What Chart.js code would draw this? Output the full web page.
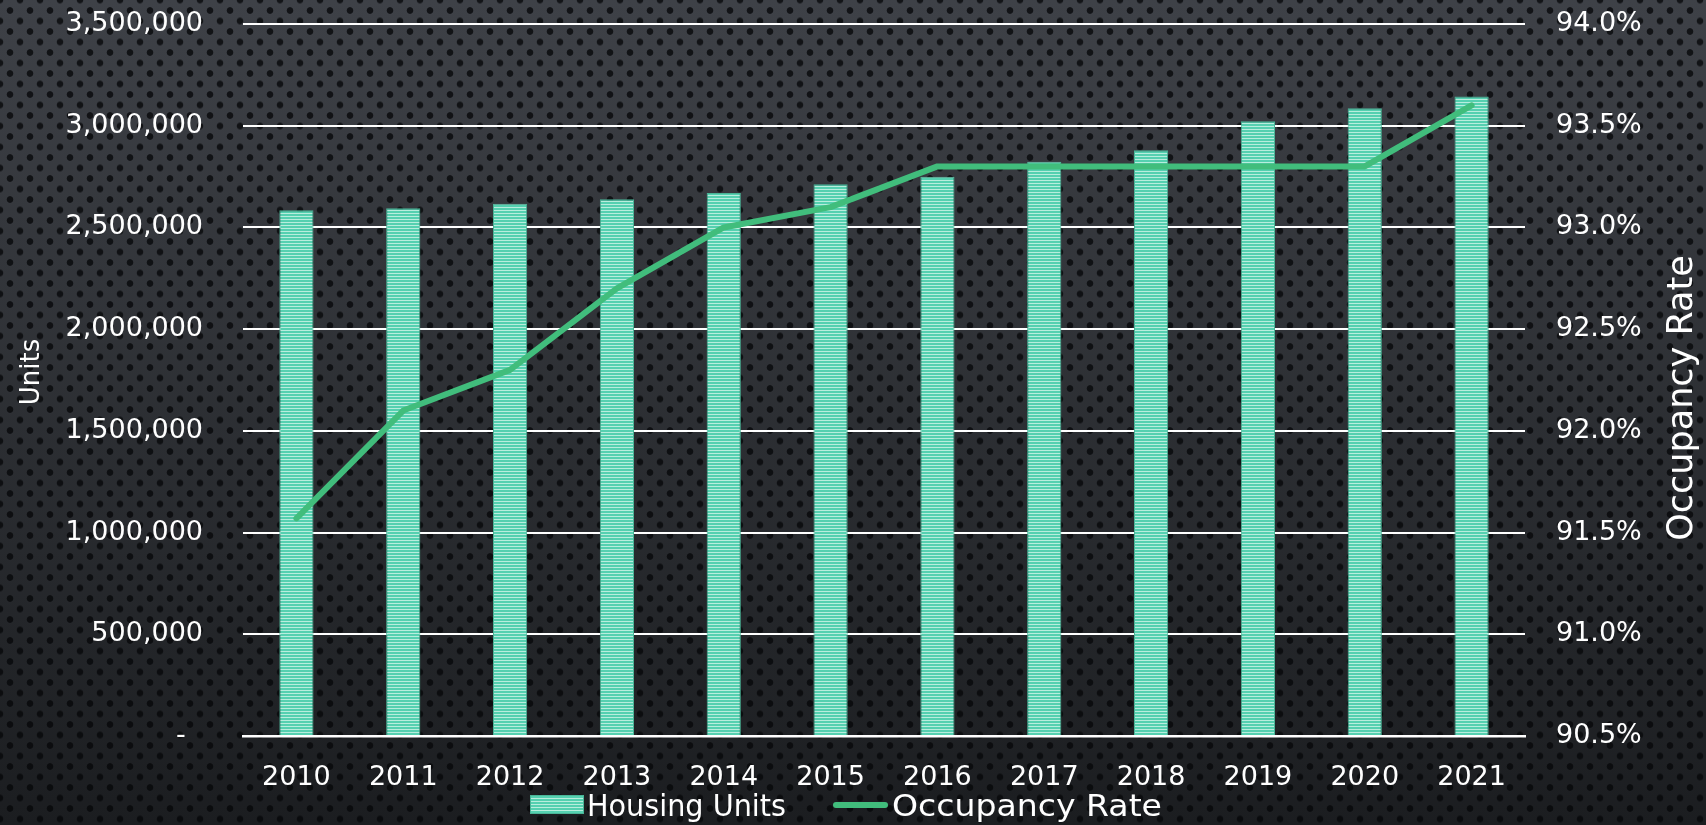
<!DOCTYPE html>
<html lang="en">
<head>
    <meta charset="UTF-8">
    <title>Housing Units and Occupancy Rate</title>
    <script src="https://cdn.jsdelivr.net/npm/chart.js"></script>
    <style>
        html, body {
            margin: 0;
            padding: 0;
        }
        body {
            width: 1706px;
            height: 825px;
            overflow: hidden;
            position: relative;
            font-family: 'DejaVu Sans', sans-serif;
            background-color: #2b2e33;
            background-image:
                radial-gradient(circle, rgba(6, 7, 9, 0.78) 2.9px, transparent 3.7px),
                radial-gradient(circle, rgba(6, 7, 9, 0.78) 2.9px, transparent 3.7px),
                linear-gradient(#3e4147, #1b1d20);
            background-size: 20px 21px, 20px 21px, 100% 100%;
            background-position: 0 0, 10px 10.5px, 0 0;
        }
        .chart-box {
            position: absolute;
            left: 0;
            top: 0;
            width: 1706px;
            height: 825px;
        }
        /* 凡例 (HTML) */
        .legend-item {
            position: absolute;
            color: #ffffff;
            font-size: 31px;
            line-height: 36px;
            white-space: nowrap;
            transform-origin: left center;
        }
        .swatch-bar {
            position: absolute;
            left: 530px;
            top: 795px;
            width: 54px;
            height: 19px;
            background: repeating-linear-gradient(#b8eddd 0px, #b8eddd 1px, #55d0b0 1px, #55d0b0 3px);
            box-shadow: inset 0 0 0 1px #4ab497;
        }
        .swatch-line {
            position: absolute;
            left: 833px;
            top: 802px;
            width: 55px;
            height: 6px;
            border-radius: 3px;
            background: #41bd7c;
        }
    </style>
</head>
<body>
    <div class="chart-box">
        <canvas id="housingChart"></canvas>
    </div>
    <div class="swatch-bar"></div>
    <span class="legend-item" id="legend-bar" style="left:587px; top:787px;"></span>
    <div class="swatch-line"></div>
    <span class="legend-item" id="legend-line" style="left:892px; top:787px;"></span>

    <script>
        // データ
        const years = ['2010', '2011', '2012', '2013', '2014', '2015', '2016', '2017', '2018', '2019', '2020', '2021'];
        const housingUnits = [2584000, 2594000, 2617000, 2638000, 2669000, 2712000, 2749000, 2823000, 2879000, 3022000, 3086000, 3143000];
        const occupancyRate = [91.57, 92.1, 92.3, 92.7, 93.0, 93.1, 93.3, 93.3, 93.3, 93.3, 93.3, 93.6];

        const unitsTicks = { min: 0, max: 3500000, step: 500000 };
        const rateTicks = { min: 90.5, max: 94.0, step: 0.5 };

        const FONT = 'DejaVu Sans';

        // 横縞のバー用パターン
        function stripePattern() {
            const c = document.createElement('canvas');
            c.width = 4;
            c.height = 3;
            const g = c.getContext('2d');
            g.fillStyle = '#55d0b0';
            g.fillRect(0, 0, 4, 3);
            g.fillStyle = '#b8eddd';
            g.fillRect(0, 0, 4, 1);
            return g.createPattern(c, 'repeat');
        }

        // 縦軸の余白 (tick padding が上下にも足されるので消す)
        function fixVerticalAxis(width) {
            return scale => {
                scale.width = width;
                scale.paddingTop = 0;
                scale.paddingBottom = 0;
            };
        }

        // 軸タイトル (両側とも下から上に読む向き)
        const axisTitles = {
            id: 'axisTitles',
            afterDraw(chart) {
                const ctx = chart.ctx;
                const mid = (chart.chartArea.top + chart.chartArea.bottom) / 2;
                const draw = (text, x, y, size) => {
                    ctx.save();
                    ctx.translate(x, y);
                    ctx.rotate(-Math.PI / 2);
                    ctx.font = `${size}px "${FONT}"`;
                    ctx.fillStyle = '#ffffff';
                    ctx.textAlign = 'center';
                    ctx.textBaseline = 'middle';
                    ctx.fillText(text, 0, 0);
                    ctx.restore();
                };
                draw('Units', 32, mid - 8, 26);
                draw('Occupancy Rate', 1683, mid + 18, 35);
            }
        };

        const ctx = document.getElementById('housingChart').getContext('2d');
        const chart = new Chart(ctx, {
            data: {
                labels: years,
                datasets: [
                    {
                        type: 'line',
                        label: 'Occupancy Rate',
                        data: occupancyRate,
                        yAxisID: 'y1',
                        borderColor: '#41bd7c',
                        borderWidth: 6,
                        borderCapStyle: 'round',
                        borderJoinStyle: 'round',
                        pointRadius: 0,
                        tension: 0,
                        order: 0
                    },
                    {
                        type: 'bar',
                        label: 'Housing Units',
                        data: housingUnits,
                        yAxisID: 'y',
                        backgroundColor: stripePattern(),
                        borderColor: '#4ab497',
                        borderWidth: 1,
                        categoryPercentage: 1.0,
                        barPercentage: 0.32,
                        order: 1
                    }
                ]
            },
            options: {
                responsive: true,
                maintainAspectRatio: false,
                animation: false,
                layout: {
                    padding: { top: 24, bottom: 0, left: 0, right: 0 }
                },
                plugins: {
                    legend: { display: false },
                    tooltip: { enabled: false }
                },
                scales: {
                    x: {
                        grid: { display: false, drawTicks: false },
                        border: { display: true, color: '#ffffff', width: 2.5 },
                        ticks: {
                            color: '#ffffff',
                            font: { family: FONT, size: 27 },
                            padding: 26,
                            maxRotation: 0
                        },
                        afterFit(scale) { scale.height = 89; }
                    },
                    y: {
                        position: 'left',
                        min: unitsTicks.min,
                        max: unitsTicks.max,
                        grid: { color: '#ffffff', lineWidth: 2, drawTicks: false },
                        border: { display: false },
                        ticks: {
                            stepSize: unitsTicks.step,
                            color: '#ffffff',
                            font: { family: FONT, size: 27 },
                            padding: 40,
                            callback: v => v === 0 ? '-  ' : v.toLocaleString('en-US')
                        },
                        afterFit: fixVerticalAxis(243)
                    },
                    y1: {
                        position: 'right',
                        min: rateTicks.min,
                        max: rateTicks.max,
                        grid: { display: false, drawTicks: false },
                        border: { display: false },
                        ticks: {
                            stepSize: rateTicks.step,
                            color: '#ffffff',
                            font: { family: FONT, size: 27 },
                            padding: 31,
                            callback: v => v.toFixed(1) + '%'
                        },
                        afterFit: fixVerticalAxis(181)
                    }
                }
            },
            plugins: [axisTitles]
        });

        // 凡例テキストの幅を参照に合わせる
        function fitLegend(id, text, width) {
            const el = document.getElementById(id);
            el.textContent = text;
            const w = el.getBoundingClientRect().width;
            el.style.transform = `scaleX(${width / w})`;
        }
        fitLegend('legend-bar', chart.data.datasets[1].label, 199);
        fitLegend('legend-line', chart.data.datasets[0].label, 270);
    </script>
</body>
</html>
